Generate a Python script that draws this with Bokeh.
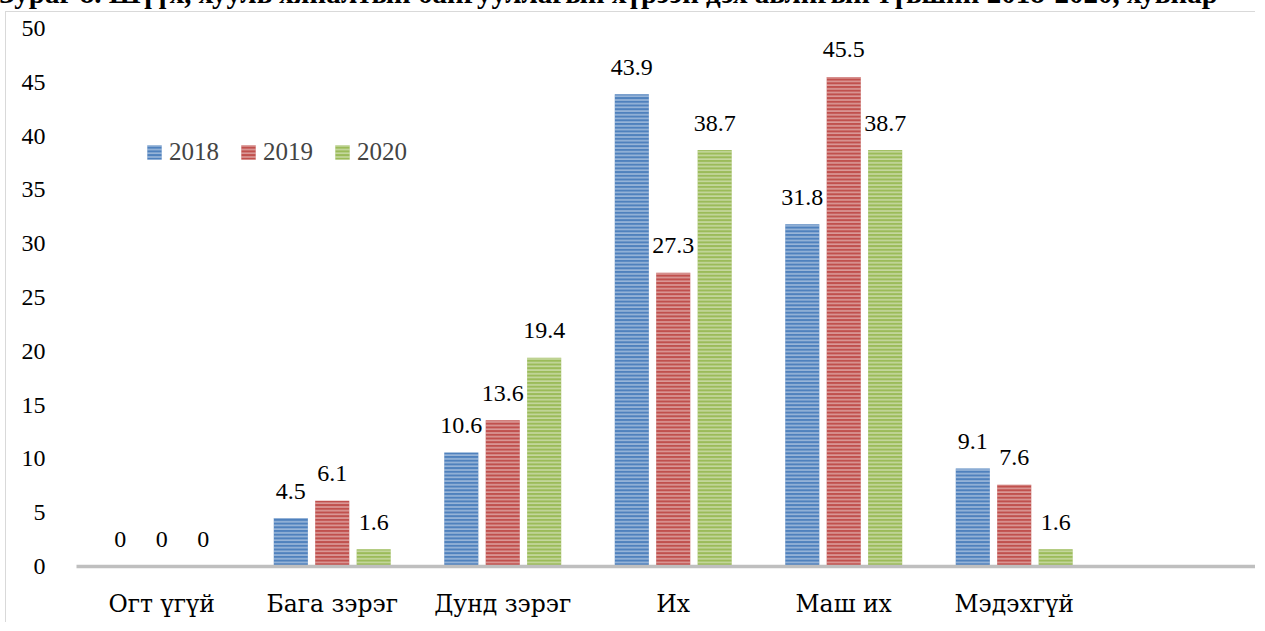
import numpy as np
from bokeh.plotting import figure
from bokeh.layouts import column
from bokeh.models import (ColumnDataSource, Range1d, FixedTicker, LabelSet, Legend,
                          LegendItem, Div)
from bokeh.transform import dodge
from bokeh.embed import file_html
from bokeh.resources import INLINE

title_text = "Зураг 8. Шүүх, хууль хяналтын байгууллагын хүрээн дэх авлигын түвшин 2018-2020, хувиар"
categories = ["Огт үгүй", "Бага зэрэг", "Дунд зэрэг", "Их", "Маш их", "Мэдэхгүй"]
years = ["2018", "2019", "2020"]
v2018 = [0, 4.5, 10.6, 43.9, 31.8, 9.1]
v2019 = [0, 6.1, 13.6, 27.3, 45.5, 7.6]
v2020 = [0, 1.6, 19.4, 38.7, 38.7, 1.6]
colors = ["#4F81BD", "#C0504D", "#9BBB59"]
y_ticks = [0, 5, 10, 15, 20, 25, 30, 35, 40, 45, 50]

F_NUM = "Liberation Serif"
F_CAT = "DejaVu Serif"
W, H = 1250, 611

xc = np.arange(len(categories)) + 0.5
src = ColumnDataSource(dict(
    x=xc,
    v2018=v2018, v2019=v2019, v2020=v2020,
    t2018=[f"{v:g}" for v in v2018],
    t2019=[f"{v:g}" for v in v2019],
    t2020=[f"{v:g}" for v in v2020],
))

p = figure(width=W, height=H, output_backend="svg", toolbar_location=None,
           x_range=Range1d(0, 6.921), y_range=Range1d(0, 50),
           min_border_left=70, min_border_right=0, min_border_top=16, min_border_bottom=57,
           background_fill_color="white", border_fill_color="white")
p.styles = {"margin-left": "5px", "border-left": "1px solid #D9D9D9",
            "border-top": "1px solid #D9D9D9"}
p.outline_line_color = None
p.xgrid.grid_line_color = None
p.ygrid.grid_line_color = None

offsets = [-0.243, 0.0, 0.243]
renderers = []
for yr, off, col in zip(years, offsets, colors):
    r = p.vbar(x=dodge("x", off, range=p.x_range), top="v" + yr, width=0.2, source=src,
               fill_color=col, line_color=None,
               hatch_pattern="horizontal_line", hatch_color="white", hatch_alpha=0.5,
               hatch_scale=3.7, hatch_weight=1.4)
    renderers.append(r)
    lbl = LabelSet(x=dodge("x", off, range=p.x_range), y="v" + yr, text="t" + yr, source=src,
                   y_offset=27, text_align="center", text_baseline="middle",
                   text_font=F_NUM, text_font_size="24px", text_color="black")
    p.add_layout(lbl)

# axes
p.xaxis.ticker = FixedTicker(ticks=list(xc))
p.xaxis.major_label_overrides = {float(x): c for x, c in zip(xc, categories)}
p.xaxis.axis_line_color = "#BFBFBF"
p.xaxis.axis_line_width = 3.5
p.xaxis.major_tick_line_color = None
p.xaxis.minor_tick_line_color = None
p.xaxis.major_tick_out = 0
p.xaxis.major_label_standoff = 23
p.xaxis.major_label_text_font = F_CAT
p.xaxis.major_label_text_font_size = "23.5px"
p.xaxis.major_label_text_color = "black"

p.yaxis.ticker = FixedTicker(ticks=y_ticks)
p.yaxis.axis_line_color = None
p.yaxis.major_tick_line_color = None
p.yaxis.minor_tick_line_color = None
p.yaxis.major_tick_out = 0
p.yaxis.major_label_standoff = 31
p.yaxis.major_label_text_font = F_NUM
p.yaxis.major_label_text_font_size = "24px"
p.yaxis.major_label_text_color = "black"

legend = Legend(items=[LegendItem(label=yr, renderers=[r]) for yr, r in zip(years, renderers)],
                orientation="horizontal", location=(69, 400),
                label_text_font=F_NUM, label_text_font_size="25px",
                glyph_width=18, glyph_height=18, label_standoff=6, spacing=20,
                padding=0, margin=0, background_fill_alpha=0, border_line_color=None)
p.add_layout(legend)

title = Div(text=title_text, width=1257, height=25,
            styles={"font-family": "'Liberation Serif', serif", "font-size": "29px",
                    "font-weight": "bold", "line-height": "25px", "white-space": "nowrap",
                    "text-indent": "-6px", "overflow": "visible", "color": "black"})

layout = column(title, p, spacing=0)
layout.styles = {"margin-top": "-24px"}

open("out.html", "w").write(file_html(layout, INLINE))
